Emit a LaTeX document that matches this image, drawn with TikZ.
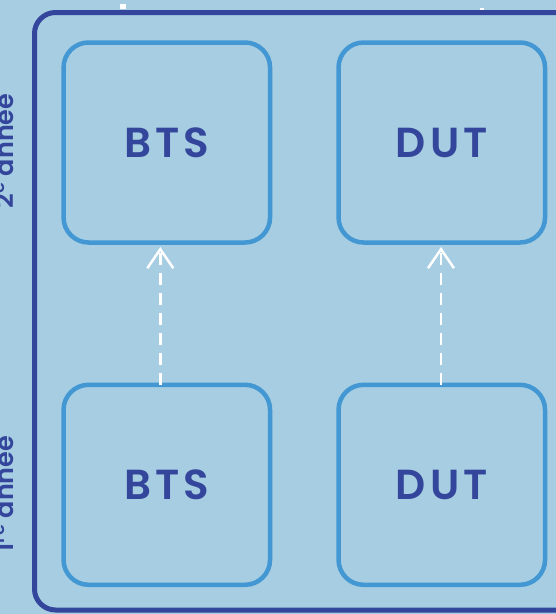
\documentclass[tikz,border=0pt]{standalone}
\usepackage{fontspec}
\usetikzlibrary{arrows.meta}
\newfontfamily\popb{Poppins SemiBold}[LetterSpace=10]
\newfontfamily\popr{Poppins SemiBold}
\definecolor{bgc}{HTML}{A6CDE2}
\definecolor{darkb}{HTML}{34469B}
\definecolor{midb}{HTML}{4398D3}
\tikzset{
  course/.style={draw=midb, line width=4.5pt, rounded corners=25pt, minimum width=206.5pt, minimum height=200pt, inner sep=0pt, text=darkb, font=\popb\fontsize{42}{42}\selectfont},
  yearlbl/.style={rotate=90, anchor=base, inner sep=0pt, text=darkb, font=\popr\fontsize{25.5}{25.5}\selectfont},
  upflow/.style={white, line width=2.5pt, dash pattern=on 12pt off 8pt, -{Straight Barb[length=19pt,width=26pt,line width=2.5pt]}}
}
\begin{document}
\begin{tikzpicture}[x=1pt,y=-1pt]
\useasboundingbox (0,0) rectangle (556,614);
\fill[bgc] (0,0) rectangle (556,614);
\draw[darkb, line width=5pt, rounded corners=21pt] (600,12.5) -- (34.5,12.5) -- (34.5,610) -- (600,610);
\fill[white] (120,4) rectangle (126,9);
\fill[white] (480,8) rectangle (484,9.5);
\node[course] (t1) at (166.8,142.5) {BTS};
\node[course] (t2) at (441.8,142.5) {DUT};
\node[course] (b1) at (166.8,484.8) {BTS};
\node[course] (b2) at (441.8,484.8) {DUT};
\draw[upflow] ([xshift=-6.5pt,yshift=-2.25pt]b1.north) -- ([xshift=-6.5pt,yshift=-2.25pt]t1.south);
\draw[upflow] ([xshift=-0.8pt,yshift=-2.25pt]b2.north) -- ([xshift=-0.8pt,yshift=-2.25pt]t2.south);
\node[yearlbl] (y2) at (13.5,151) {2\textsuperscript{e} année};
\node[yearlbl] (y1) at (13.5,494) {1\textsuperscript{re} année};
\end{tikzpicture}
\end{document}
